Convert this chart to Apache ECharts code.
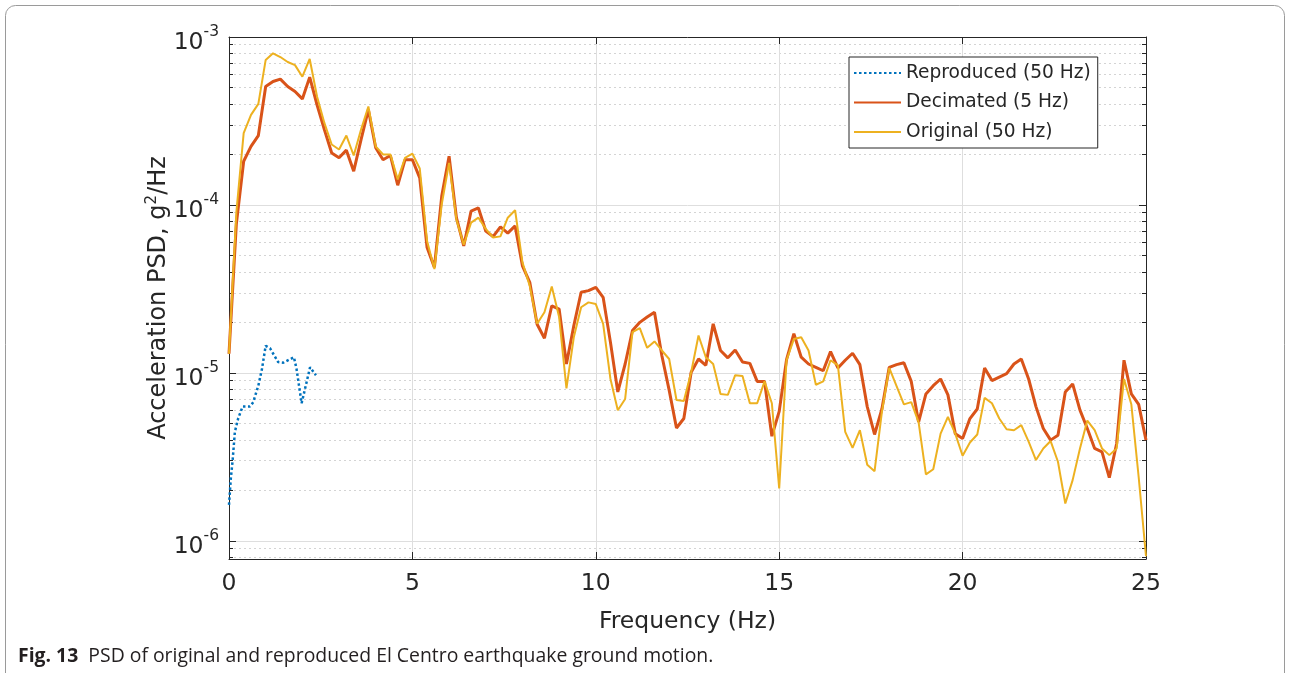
<!DOCTYPE html>
<html>
<head>
<meta charset="utf-8">
<title>PSD El Centro</title>
<script src="https://cdn.jsdelivr.net/npm/echarts@6/dist/echarts.min.js"></script>
<style>
  html, body { margin: 0; padding: 0; background: #fff; }
  #chart { width: 1290px; height: 673px; }
</style>
</head>
<body>
<div id="chart"></div>
<script>
// frequency grid of the PSD estimates (Hz)
const freq = [0, 0.2, 0.4, 0.6, 0.8, 1, 1.2, 1.4, 1.6, 1.8, 2, 2.2, 2.4, 2.6, 2.8, 3, 3.2, 3.4, 3.6, 3.8,
  4, 4.2, 4.4, 4.6, 4.8, 5, 5.2, 5.4, 5.6, 5.8, 6, 6.2, 6.4, 6.6, 6.8, 7, 7.2, 7.4, 7.6, 7.8,
  8, 8.2, 8.4, 8.6, 8.8, 9, 9.2, 9.4, 9.6, 9.8, 10, 10.2, 10.4, 10.6, 10.8, 11, 11.2, 11.4, 11.6, 11.8,
  12, 12.2, 12.4, 12.6, 12.8, 13, 13.2, 13.4, 13.6, 13.8, 14, 14.2, 14.4, 14.6, 14.8, 15, 15.2, 15.4, 15.6, 15.8,
  16, 16.2, 16.4, 16.6, 16.8, 17, 17.2, 17.4, 17.6, 17.8, 18, 18.2, 18.4, 18.6, 18.8, 19, 19.2, 19.4, 19.6, 19.8,
  20, 20.2, 20.4, 20.6, 20.8, 21, 21.2, 21.4, 21.6, 21.8, 22, 22.2, 22.4, 22.6, 22.8, 23, 23.2, 23.4, 23.6, 23.8,
  24, 24.2, 24.4, 24.6, 24.8, 25];

// Decimated (5 Hz)
const decimated = [1.3e-5, 7.7e-5, 1.82e-4, 2.23e-4, 2.59e-4, 5.07e-4, 5.43e-4, 5.61e-4, 5.07e-4, 4.74e-4,
  4.28e-4, 5.77e-4, 3.95e-4, 2.81e-4, 2.04e-4, 1.91e-4, 2.12e-4, 1.59e-4, 2.45e-4, 3.69e-4,
  2.19e-4, 1.86e-4, 1.97e-4, 1.31e-4, 1.86e-4, 1.86e-4, 1.45e-4, 5.58e-5, 4.25e-5, 1.13e-4,
  1.95e-4, 8.4e-5, 5.7e-5, 9.2e-5, 9.6e-5, 7.0e-5, 6.48e-5, 7.4e-5, 6.8e-5, 7.5e-5,
  4.34e-5, 3.46e-5, 1.95e-5, 1.61e-5, 2.51e-5, 2.4e-5, 1.13e-5, 1.91e-5, 3.02e-5, 3.09e-5,
  3.23e-5, 2.82e-5, 1.52e-5, 7.7e-6, 1.13e-5, 1.79e-5, 2.0e-5, 2.15e-5, 2.3e-5, 1.27e-5,
  7.9e-6, 4.7e-6, 5.35e-6, 1.01e-5, 1.21e-5, 1.11e-5, 1.96e-5, 1.36e-5, 1.23e-5, 1.37e-5,
  1.16e-5, 1.14e-5, 8.9e-6, 8.9e-6, 4.2e-6, 5.9e-6, 1.2e-5, 1.71e-5, 1.24e-5, 1.13e-5,
  1.08e-5, 1.03e-5, 1.34e-5, 1.07e-5, 1.19e-5, 1.31e-5, 1.12e-5, 6.3e-6, 4.3e-6, 6.1e-6,
  1.08e-5, 1.12e-5, 1.15e-5, 8.9e-6, 5.1e-6, 7.5e-6, 8.4e-6, 9.2e-6, 7.4e-6, 4.35e-6,
  4.07e-6, 5.35e-6, 6.1e-6, 1.07e-5, 9.0e-6, 9.45e-6, 9.9e-6, 1.13e-5, 1.21e-5, 9.2e-6,
  6.3e-6, 4.67e-6, 3.98e-6, 4.26e-6, 7.7e-6, 8.6e-6, 6.0e-6, 4.67e-6, 3.55e-6, 3.39e-6,
  2.38e-6, 3.8e-6, 1.19e-5, 7.5e-6, 6.5e-6, 3.98e-6];

// Original (50 Hz)
const original = [1.3e-5, 9.0e-5, 2.68e-4, 3.44e-4, 4.0e-4, 7.3e-4, 8.0e-4, 7.6e-4, 7.1e-4, 6.8e-4,
  5.8e-4, 7.4e-4, 4.42e-4, 3.08e-4, 2.29e-4, 2.14e-4, 2.59e-4, 1.97e-4, 2.81e-4, 3.86e-4,
  2.23e-4, 2.0e-4, 2.0e-4, 1.42e-4, 1.91e-4, 2.02e-4, 1.65e-4, 6.1e-5, 4.15e-5, 1.01e-4,
  1.78e-4, 8.2e-5, 5.8e-5, 7.85e-5, 8.4e-5, 7.2e-5, 6.4e-5, 6.5e-5, 8.4e-5, 9.3e-5,
  4.55e-5, 3.3e-5, 1.96e-5, 2.3e-5, 3.27e-5, 2.15e-5, 8.1e-6, 1.63e-5, 2.46e-5, 2.63e-5,
  2.57e-5, 1.96e-5, 9.2e-6, 6.0e-6, 7.0e-6, 1.75e-5, 1.85e-5, 1.41e-5, 1.54e-5, 1.36e-5,
  1.21e-5, 6.9e-6, 6.8e-6, 1.01e-5, 1.67e-5, 1.24e-5, 1.13e-5, 7.5e-6, 7.4e-6, 9.7e-6,
  9.6e-6, 6.6e-6, 6.6e-6, 8.9e-6, 6.6e-6, 2.05e-6, 1.19e-5, 1.59e-5, 1.63e-5, 1.36e-5,
  8.5e-6, 8.9e-6, 1.19e-5, 1.11e-5, 4.46e-6, 3.58e-6, 4.56e-6, 2.84e-6, 2.6e-6, 5.86e-6,
  1.07e-5, 8.35e-6, 6.5e-6, 6.7e-6, 5.1e-6, 2.49e-6, 2.67e-6, 4.35e-6, 5.48e-6, 4.35e-6,
  3.21e-6, 3.85e-6, 4.3e-6, 7.1e-6, 6.6e-6, 5.35e-6, 4.62e-6, 4.56e-6, 4.89e-6, 3.9e-6,
  3.03e-6, 3.55e-6, 3.93e-6, 2.96e-6, 1.67e-6, 2.3e-6, 3.55e-6, 5.2e-6, 4.56e-6, 3.55e-6,
  3.24e-6, 3.55e-6, 9.2e-6, 6.5e-6, 2.4e-6, 8.1e-7];

// Reproduced (50 Hz)
const reproFreq = [0, 0.05, 0.1, 0.16, 0.25, 0.37, 0.57, 0.66, 0.8, 0.9, 1.0, 1.12, 1.34, 1.48, 1.77, 1.84, 1.98, 2.07, 2.21, 2.37];
const reproduced = [1.64e-6, 2.36e-6, 3.03e-6, 4.46e-6, 5.35e-6, 6.3e-6, 6.3e-6, 6.7e-6, 8.4e-6, 1.06e-5,
  1.45e-5, 1.4e-5, 1.16e-5, 1.15e-5, 1.24e-5, 1.06e-5, 6.6e-6, 8.0e-6, 1.08e-5, 9.7e-6];

const seriesNames = ['Reproduced (50 Hz)', 'Decimated (5 Hz)', 'Original (50 Hz)'];
const majorTicks = [1e-6, 1e-5, 1e-4, 1e-3];
const minorTicks = [8e-7, 9e-7,
  2e-6, 3e-6, 4e-6, 5e-6, 6e-6, 7e-6, 8e-6, 9e-6,
  2e-5, 3e-5, 4e-5, 5e-5, 6e-5, 7e-5, 8e-5, 9e-5,
  2e-4, 3e-4, 4e-4, 5e-4, 6e-4, 7e-4, 8e-4, 9e-4];

function pairs(xs, ys) {
  return xs.map(function (x, i) { return [x, ys[i]]; });
}

const FONT = 'DejaVu Sans';
const INK = '#262626';
const yMin = 7.8e-7, yMax = 1e-3;

const chart = echarts.init(document.getElementById('chart'));

function logAxis(extra) {
  return Object.assign({
    type: 'log',
    logBase: 10,
    min: yMin,
    max: yMax,
    axisLine: { show: false },
    axisTick: { show: false },
    axisLabel: { show: false },
    splitLine: { show: false },
    minorTick: { show: false },
    minorSplitLine: { show: false }
  }, extra);
}

chart.setOption({
  animation: false,
  backgroundColor: '#fff',
  textStyle: { fontFamily: FONT },
  grid: { left: 229, top: 37, right: 144, bottom: 114, containLabel: false },
  legend: {
    data: seriesNames,
    orient: 'vertical',
    left: 849,
    top: 57,
    padding: [5, 7, 5, 4],
    itemGap: 7.5,
    itemWidth: 47,
    itemHeight: 12,
    itemStyle: { opacity: 0 },
    backgroundColor: '#fff',
    borderColor: INK,
    borderWidth: 1,
    borderRadius: 0,
    textStyle: { fontFamily: FONT, fontSize: 18.6, color: INK, lineHeight: 22 }
  },
  xAxis: [
    {
      type: 'value', min: 0, max: 25, interval: 5,
      position: 'bottom',
      name: 'Frequency (Hz)',
      nameLocation: 'middle',
      nameGap: 51,
      nameTextStyle: { fontFamily: FONT, fontSize: 23.5, color: INK },
      axisLine: { show: true, lineStyle: { color: INK, width: 1 } },
      axisTick: { show: true, inside: true, length: 7, lineStyle: { color: INK } },
      axisLabel: { fontFamily: FONT, fontSize: 23.5, color: INK, margin: 13 },
      splitLine: { show: true, lineStyle: { color: '#dedede', width: 1 } }
    },
    {
      type: 'value', min: 0, max: 25, interval: 5,
      position: 'top',
      axisLine: { show: true, lineStyle: { color: INK, width: 1 } },
      axisTick: { show: true, inside: true, length: 7, lineStyle: { color: INK } },
      axisLabel: { show: false },
      splitLine: { show: false }
    }
  ],
  yAxis: [
    logAxis({
      position: 'left',
      name: 'Acceleration PSD, g{s|2}/Hz',
      nameLocation: 'middle',
      nameRotate: 90,
      nameGap: 57,
      nameMoveOverlap: false,
      nameTextStyle: {
        fontFamily: FONT, fontSize: 24, color: INK,
        rich: { s: { fontFamily: FONT, fontSize: 15, color: INK, verticalAlign: 'top', padding: [0, 0, 12, 0] } }
      },
      axisLine: { show: true, lineStyle: { color: INK, width: 1 } },
      axisTick: { show: true, inside: true, length: 7, customValues: majorTicks, lineStyle: { color: INK } },
      axisLabel: {
        show: true,
        customValues: majorTicks,
        margin: 10,
        formatter: function (v) {
          return '{b|10}{s|' + Math.round(Math.log10(v)) + '}';
        },
        rich: {
          b: { fontFamily: FONT, fontSize: 23.5, color: INK, padding: [12, 0, 0, 0] },
          s: { fontFamily: FONT, fontSize: 15.5, color: INK, padding: [0, 0, 10, 0] }
        }
      },
      splitLine: { show: true, lineStyle: { color: '#dedede', width: 1 } }
    }),
    logAxis({
      position: 'left',
      axisTick: { show: true, inside: true, length: 4, customValues: minorTicks, lineStyle: { color: INK } },
      splitLine: { show: true, lineStyle: { color: '#d4d4d4', width: 1, type: [2, 3] } }
    }),
    logAxis({
      position: 'right',
      axisLine: { show: true, lineStyle: { color: INK, width: 1 } },
      axisTick: { show: true, inside: true, length: 7, customValues: majorTicks, lineStyle: { color: INK } }
    }),
    logAxis({
      position: 'right',
      axisTick: { show: true, inside: true, length: 4, customValues: minorTicks, lineStyle: { color: INK } }
    })
  ],
  series: [
    {
      name: seriesNames[0], type: 'line', xAxisIndex: 0, yAxisIndex: 0,
      data: pairs(reproFreq, reproduced),
      symbol: 'none', showSymbol: false, z: 3,
      itemStyle: { color: '#0072BD' },
      lineStyle: { color: '#0072BD', width: 2.5, type: [2.5, 2.5] }
    },
    {
      name: seriesNames[1], type: 'line', xAxisIndex: 0, yAxisIndex: 0,
      data: pairs(freq, decimated),
      symbol: 'none', showSymbol: false, z: 4,
      itemStyle: { color: '#D95319' },
      lineStyle: { color: '#D95319', width: 3 }
    },
    {
      name: seriesNames[2], type: 'line', xAxisIndex: 0, yAxisIndex: 0,
      data: pairs(freq, original),
      symbol: 'none', showSymbol: false, z: 5,
      itemStyle: { color: '#EDB120' },
      lineStyle: { color: '#EDB120', width: 2 }
    }
  ],
  graphic: [
    {
      type: 'rect', silent: true, z: -10,
      shape: { x: 5.5, y: 5.5, width: 1279, height: 720, r: 10 },
      style: { fill: 'none', stroke: '#9a9a9a', lineWidth: 1 }
    },
    {
      type: 'text', left: 18, top: 647, silent: true,
      style: {
        text: '{b|Fig. 13}  PSD of original and reproduced El Centro earthquake ground motion.',
        font: '19.4px "Open Sans"',
        fill: '#231f20',
        rich: {
          b: { fontFamily: 'Open Sans', fontWeight: 'bold', fontSize: 19.4, fill: '#231f20' }
        }
      }
    }
  ]
});
</script>
</body>
</html>
